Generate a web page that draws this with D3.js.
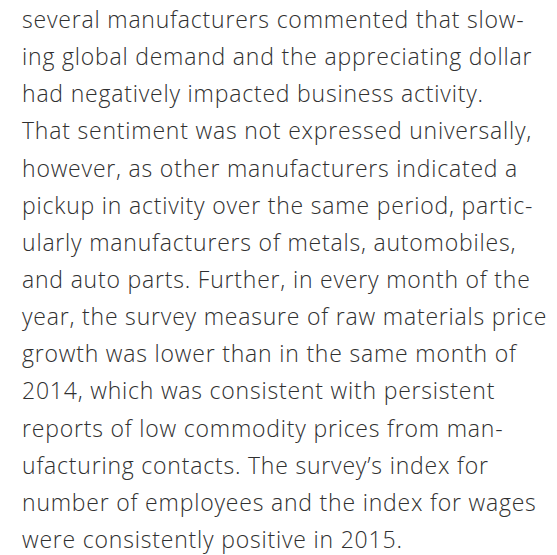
<!DOCTYPE html>
<html>
<head>
<meta charset="utf-8">
<script src="https://d3js.org/d3.v7.min.js"></script>
<style>
  html, body { margin: 0; padding: 0; background: #fff; }
</style>
</head>
<body>
<svg width="557" height="555"></svg>
<script>
// paragraph, one entry per line as set in the original
const lines = [
  "several manufacturers commented that slow-",
  "ing global demand and the appreciating dollar",
  "had negatively impacted business activity.",
  "That sentiment was not expressed universally,",
  "however, as other manufacturers indicated a",
  "pickup in activity over the same period, partic-",
  "ularly manufacturers of metals, automobiles,",
  "and auto parts. Further, in every month of the",
  "year, the survey measure of raw materials price",
  "growth was lower than in the same month of",
  "2014, which was consistent with persistent",
  "reports of low commodity prices from man-",
  "ufacturing contacts. The survey\u2019s index for",
  "number of employees and the index for wages",
  "were consistently positive in 2015."
]

const svg = d3.select("svg")

// baseline of each line
const y = d3.scaleLinear()
  .domain([0, lines.length - 1])
  .range([28, 548])

svg.selectAll("text")
  .data(lines)
  .enter()
  .append("text")
  .attr("x", 22)
  .attr("y", (d, i) => y(i))
  .style("font-family", "'Open Sans', sans-serif")
  .style("font-weight", 300)
  .style("font-size", "23px")
  .style("letter-spacing", "0.8px")
  .style("fill", "#303030")
  .text(d => d)
</script>
</body>
</html>
